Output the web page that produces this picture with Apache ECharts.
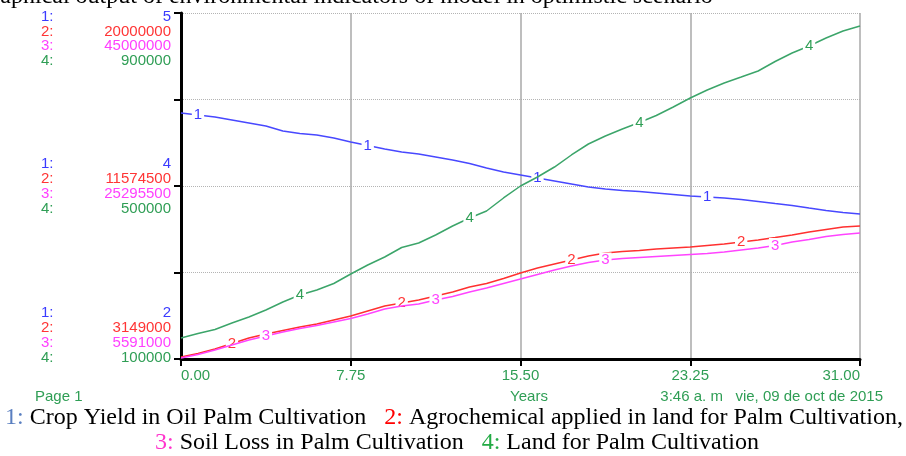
<!DOCTYPE html>
<html>
<head>
<meta charset="utf-8">
<script src="https://cdn.jsdelivr.net/npm/echarts@6/dist/echarts.min.js"></script>
<style>
  html,body{margin:0;padding:0;background:#fff;}
  #d{width:906px;height:456px;}
</style>
</head>
<body>
<div id="d"></div>
<script>
// time in years (Stella output step)
var years=[0,0.775,1.55,2.325,3.1,3.875,4.65,5.425,6.2,6.975,7.75,8.525,9.3,10.075,10.85,11.625,12.4,13.175,13.95,14.725,15.5,
  16.275,17.05,17.825,18.6,19.375,20.15,20.925,21.7,22.475,23.25,24.025,24.8,25.575,26.35,27.125,27.9,28.675,29.45,30.225,31];

// 1: Crop Yield in Oil Palm Cultivation
var cropYield=[4.133,4.116,4.098,4.072,4.046,4.020,3.977,3.955,3.942,3.916,3.882,3.851,3.821,3.795,3.777,3.751,3.725,3.695,3.656,3.621,3.595,
  3.569,3.543,3.517,3.491,3.474,3.461,3.452,3.439,3.426,3.413,3.405,3.396,3.383,3.366,3.348,3.331,3.309,3.288,3.270,3.257];
// 2: Agrochemical applied in land for Palm Cultivation
var agrochem=[3246000,3417000,3636000,3904000,4172000,4367000,4537000,4707000,4854000,5048000,5243000,5487000,5730000,5876000,6022000,6217000,6412000,6656000,6826000,7070000,7337000,
  7581000,7776000,7970000,8165000,8311000,8384000,8433000,8506000,8555000,8604000,8677000,8750000,8847000,8945000,9066000,9188000,9334000,9456000,9578000,9626000];
// 3: Soil Loss in Palm Cultivation
var soilLoss=[5705000,6104000,6616000,7186000,7755000,8211000,8666000,9065000,9407000,9805000,10204000,10716000,11286000,11628000,11855000,12311000,12710000,13222000,13678000,14190000,14703000,
  15215000,15728000,16184000,16582000,16867000,17038000,17152000,17266000,17380000,17493000,17607000,17778000,18006000,18234000,18519000,18917000,19202000,19544000,19771000,19942000];
// 4: Land for Palm Cultivation
var land=[148600,159000,168200,183200,197100,213300,231800,248000,259500,274600,296500,317300,335800,357800,368200,386700,407500,426000,442200,472300,500000,
  520800,543900,571700,597100,615600,631800,646800,663000,682700,703500,722000,738200,752000,765900,787900,807500,823700,842200,858400,869900];

var seriesNames=['Crop Yield in Oil Palm Cultivation','Agrochemical applied in land for Palm Cultivation','Soil Loss in Palm Cultivation','Land for Palm Cultivation'];
var scaleMin=[2,3149000,5591000,100000];
var scaleMax=[5,20000000,45000000,900000];
// scale labels shown on the left (top / middle / bottom)
var labelsTop=['5','20000000','45000000','900000'];
var labelsMid=['4','11574500','25295500','500000'];
var labelsBot=['2','3149000','5591000','100000'];
// where the line numbers sit on each curve
var markIdx=[[1,11,21,31],[3,13,23,33],[5,15,25,35],[7,17,27,37]];

var txtColors=['#3b3bff','#ff3535','#ff40ff','#2f9e55'];
var lineColors=['#4848ff','#ff3030','#ff44ff','#3ca56a'];

var G={left:181,top:13,right:860,bottom:359};
var myChart=echarts.init(document.getElementById('d'));

function mkData(vals,k){
  var out=[];
  for(var i=0;i<vals.length;i++){
    if(markIdx[k].indexOf(i)>=0){
      out.push({value:[years[i],vals[i]],symbol:'rect',symbolSize:[1,1],
        label:{show:true}});
    }else{
      out.push({value:[years[i],vals[i]],symbol:'none'});
    }
  }
  return out;
}

var allVals=[cropYield,agrochem,soilLoss,land];
var yAxes=[];
var series=[];
for(var k=0;k<4;k++){
  var ya={type:'value',min:scaleMin[k],max:scaleMax[k],show:false};
  if(k==0){
    ya={type:'value',min:2,max:5,interval:0.75,position:'left',
      axisLine:{show:true,lineStyle:{color:'#000',width:3}},
      axisTick:{show:true,length:7,lineStyle:{color:'#000',width:2}},
      axisLabel:{show:false},
      splitLine:{show:true,lineStyle:{color:'#b4b4b4',width:1,type:[1,1]}}};
  }
  yAxes.push(ya);
  series.push({
    name:seriesNames[k],
    type:'line',
    yAxisIndex:k,
    data:mkData(allVals[k],k),
    showSymbol:true,
    itemStyle:{color:'#fff'},
    lineStyle:{color:lineColors[k],width:1.5},
    label:{show:false,position:'inside',formatter:String(k+1),color:txtColors[k],
      fontSize:15,fontFamily:'Liberation Sans',backgroundColor:'#fff',padding:[0,2]},
    silent:true,
    z:2+k
  });
}

// left scale labels
var graphics=[];
var font='15px "Liberation Sans"';
function addScale(rows,y0,step){
  for(var k=0;k<4;k++){
    var y=y0+k*step;
    graphics.push({type:'text',x:41,y:y,style:{text:(k+1)+':',font:font,fill:txtColors[k],textVerticalAlign:'middle',verticalAlign:'middle'}});
    graphics.push({type:'text',x:171,y:y,style:{text:rows[k],font:font,fill:txtColors[k],textAlign:'right',align:'right',textVerticalAlign:'middle',verticalAlign:'middle'}});
  }
}
addScale(labelsTop,G.top+4,14.6);
addScale(labelsMid,(G.top+G.bottom)/2-22,14.8);
addScale(labelsBot,G.bottom-46,14.8);

// footer texts
var green='#2f9e55';
graphics.push({type:'text',x:35,y:397,style:{text:'Page 1',font:font,fill:green,textVerticalAlign:'middle',verticalAlign:'middle'}});
graphics.push({type:'text',x:529,y:397,style:{text:'Years',font:font,fill:green,textAlign:'center',align:'center',textVerticalAlign:'middle',verticalAlign:'middle'}});
graphics.push({type:'text',x:883,y:397,style:{text:'3:46 a. m   vie, 09 de oct de 2015',font:font,fill:green,textAlign:'right',align:'right',textVerticalAlign:'middle',verticalAlign:'middle'}});

// clipped title
graphics.push({type:'text',x:-25,y:-3,style:{text:'Graphical output of environmental indicators of model in optimistic scenario',
  font:'24px "Liberation Serif"',fill:'#000',textVerticalAlign:'middle',verticalAlign:'middle'}});

// caption
var serif='24px "Liberation Serif"';
graphics.push({type:'text',x:5,y:418,style:{
  text:'{a|1:} Crop Yield in Oil Palm Cultivation   {b|2:} Agrochemical applied in land for Palm Cultivation,',
  font:serif,fill:'#000',textVerticalAlign:'middle',verticalAlign:'middle',
  rich:{a:{fill:'#5a7fc0',font:serif},b:{fill:'#ff0000',font:serif}}}});
graphics.push({type:'text',x:155,y:443,style:{
  text:'{c|3:} Soil Loss in Palm Cultivation   {d|4:} Land for Palm Cultivation',
  font:serif,fill:'#000',textVerticalAlign:'middle',verticalAlign:'middle',
  rich:{c:{fill:'#ff33cc',font:serif},d:{fill:'#22aa44',font:serif}}}});

option={
  animation:false,
  backgroundColor:'#fff',
  grid:{left:G.left,top:G.top,right:906-G.right,bottom:456-G.bottom,containLabel:false},
  xAxis:{
    type:'value',min:0,max:31,interval:7.75,
    axisLine:{show:true,onZero:false,lineStyle:{color:'#000',width:3}},
    axisTick:{show:true,length:7,lineStyle:{color:'#000',width:2}},
    axisLabel:{color:green,fontSize:15,fontFamily:'Liberation Sans',margin:9,
      alignMinLabel:'left',alignMaxLabel:'right',
      formatter:function(v){return v.toFixed(2);}},
    splitLine:{show:true,lineStyle:{color:'#a8a8a8',width:1.5}}
  },
  yAxis:yAxes,
  series:series,
  graphic:graphics
};
option && myChart.setOption(option);
</script>
</body>
</html>
